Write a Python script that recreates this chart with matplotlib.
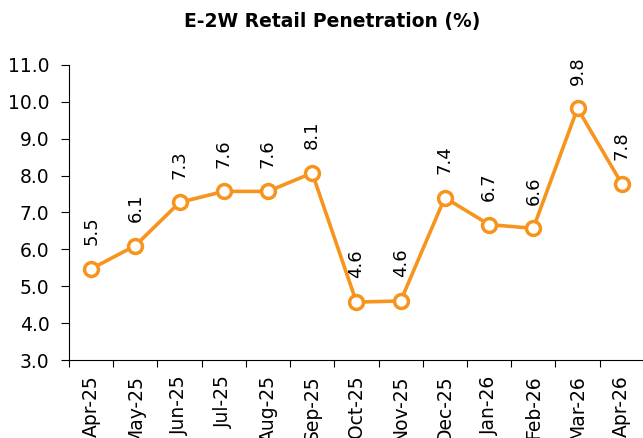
import matplotlib.pyplot as plt
import numpy as np

# Monthly E-2W retail penetration (%)
months = ["Apr-25", "May-25", "Jun-25", "Jul-25", "Aug-25", "Sep-25", "Oct-25",
          "Nov-25", "Dec-25", "Jan-26", "Feb-26", "Mar-26", "Apr-26"]
penetration = [5.47, 6.1, 7.27, 7.57, 7.57, 8.07, 4.57, 4.6, 7.4, 6.67, 6.57, 9.82, 7.78]

plt.rcParams['font.family'] = ['DejaVu Sans']

fig = plt.figure(figsize=(6.43, 4.38), dpi=100)
ax = fig.add_axes([0.1073, 0.178, 0.894, 0.674])

x = np.arange(len(months))
ax.plot(x, penetration, color="#F7941D", linewidth=2.6, marker="o",
        markersize=10, markerfacecolor="white", markeredgewidth=2.5,
        markeredgecolor="#F7941D", zorder=3)

# data labels, rotated like the source
for xi, v in zip(x, penetration):
    ax.annotate(f"{v:.1f}", (xi, v), xytext=(0, 17), textcoords="offset points",
                rotation=90, ha="center", va="bottom", fontsize=13)

ax.set_xlim(-0.5, len(months) - 0.5)
ax.set_ylim(3, 11)
ax.set_yticks(np.arange(3, 11.5, 1.0))
ax.set_yticklabels([f"{t:.1f}" for t in np.arange(3, 11.5, 1.0)], fontsize=13.5)
ax.set_xticks(np.arange(-0.5, len(months), 1.0), minor=False)
ax.set_xticklabels([])
ax.set_xticks(x, minor=True)
ax.set_xticklabels(months, minor=True, rotation=90, fontsize=13.5)
ax.tick_params(axis="x", which="minor", length=0, pad=11)
ax.tick_params(axis="x", which="major", length=5, direction="out")
ax.tick_params(axis="y", length=6, direction="out", pad=8)

ax.spines["top"].set_visible(False)
ax.spines["right"].set_visible(False)

fig.suptitle("E-2W Retail Penetration (%)", fontweight="bold", fontsize=13.5,
             x=0.516, y=0.95, va="center")

fig.savefig("out.png", dpi=100)
